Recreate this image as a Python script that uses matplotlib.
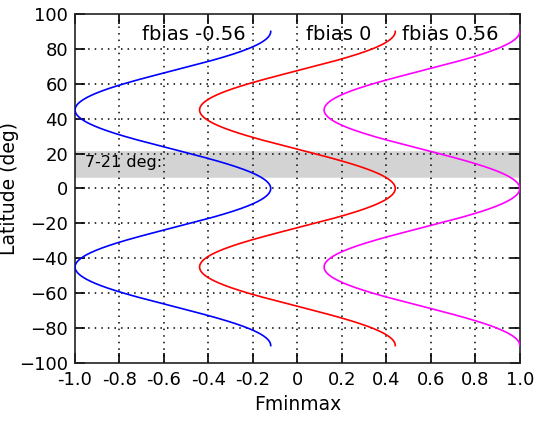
import numpy as np
import matplotlib
matplotlib.use("Agg")
import matplotlib.pyplot as plt

plt.rcParams['font.family'] = ['DejaVu Sans']

# Model parameters for each curve
fbias_values = [-0.56, 0.0, 0.56]
fbias_labels = ["fbias -0.56", "fbias 0", "fbias 0.56"]
amplitude = 0.44
curve_colors = ["#0000ff", "#ff0000", "#ff00ff"]

# Shaded latitude band
band_lo, band_hi = 7, 21
band_label = "7-21 deg:"

xticks = [-1.0, -0.8, -0.6, -0.4, -0.2, 0, 0.2, 0.4, 0.6, 0.8, 1.0]
xticklabels = ["-1.0", "-0.8", "-0.6", "-0.4", "-0.2", "0", "0.2", "0.4", "0.6", "0.8", "1.0"]
yticks = list(range(-100, 101, 20))

lat = np.linspace(-90, 90, 721)

fig = plt.figure(figsize=(5.37, 4.23), dpi=100)
ax = fig.add_axes([0.1397, 0.1418, 0.8283, 0.8252])

ax.axhspan(band_lo, band_hi, facecolor="#d3d3d3", edgecolor="#d3d3d3", lw=1.8, zorder=0)

for fb, col in zip(fbias_values, curve_colors):
    f = fb + amplitude * np.cos(np.deg2rad(4 * lat))
    ax.plot(f, lat, color=col, lw=1.2, zorder=3)

for x in xticks[1:-1]:
    ax.axvline(x, color="black", lw=1.1, ls=(0, (1, 3.3)), zorder=1)
for y in yticks[1:-1]:
    ax.axhline(y, color="black", lw=1.1, ls=(0, (1, 3.3)), zorder=1)

ax.set_xlim(-1, 1)
ax.set_ylim(-100, 100)
ax.set_xticks(xticks)
ax.set_xticklabels(xticklabels)
ax.set_yticks(yticks)
ax.tick_params(direction="in", length=7, width=1.2, top=True, right=True,
               labelsize=13, pad=6, colors="black")
ax.tick_params(axis="y", pad=5)
for sp in ax.spines.values():
    sp.set_linewidth(1.2)
    sp.set_color("#222222")

ax.set_xlabel("Fminmax", fontsize=13.5, labelpad=4)
ax.set_ylabel("Latitude (deg)", fontsize=13.5)
ax.yaxis.set_label_coords(-0.125, 0.5)

label_x = [-0.465, 0.184, 0.685]
for lx, txt in zip(label_x, fbias_labels):
    ax.text(lx, 88.5, txt, fontsize=14, ha="center", va="center", zorder=4)

ax.text(-0.955, 15, band_label, fontsize=11.5, ha="left", va="center", zorder=4)

fig.savefig("out.png", dpi=100)
